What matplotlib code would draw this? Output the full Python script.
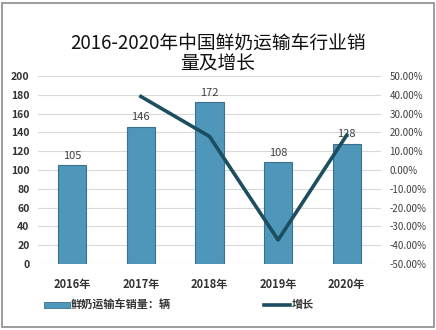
import matplotlib.pyplot as plt
from matplotlib.patches import Rectangle
from matplotlib.ticker import FuncFormatter

plt.rcParams['font.family'] = ['Noto Sans CJK SC', 'DejaVu Sans']

years = ['2016年', '2017年', '2018年', '2019年', '2020年']
sales = [105, 146, 172, 108, 128]
growth = [None, 39.05, 17.81, -37.21, 18.52]

fig = plt.figure(figsize=(4.36, 3.30), dpi=100)
ax = fig.add_axes([0.087, 0.2, 0.787, 0.57])

x = list(range(len(years)))
bars = ax.bar(x, sales, width=0.41, color='#4f96bb', edgecolor='#3b718e', linewidth=0.8, zorder=2)
for xi, v in zip(x, sales):
    ax.text(xi, v + 5, str(v), ha='center', va='bottom', fontsize=8, color='#404040')

ax.set_xlim(-0.5, len(years) - 0.5)
ax.set_ylim(0, 200)
ax.set_yticks(range(0, 201, 20))
ax.set_xticks(x)
ax.set_xticklabels(years, fontsize=8, fontweight='bold', color='#333333')
ax.tick_params(axis='both', length=0, pad=6)
ax.tick_params(axis='x', pad=10)
for lab in ax.get_yticklabels():
    lab.set_fontsize(7.5)
    lab.set_fontweight('bold')
    lab.set_color('#333333')
ax.grid(axis='y', color='#d9d9d9', linewidth=0.8, zorder=0)
for s in ax.spines.values():
    s.set_visible(False)

ax2 = ax.twinx()
gx = [xi for xi, g in zip(x, growth) if g is not None]
gy = [g for g in growth if g is not None]
ax2.plot(gx, gy, color='#1d4e60', linewidth=2.6, zorder=3)
ax2.set_ylim(-50, 50)
ax2.set_yticks(range(-50, 51, 10))
ax2.yaxis.set_major_formatter(FuncFormatter(lambda v, p: f'{v:.2f}%'))
ax2.tick_params(axis='y', length=0, pad=6, labelsize=7, labelcolor='#404040')
for s in ax2.spines.values():
    s.set_visible(False)

fig.text(0.5, 0.868, '2016-2020年中国鲜奶运输车行业销', ha='center', va='center', fontsize=13.5, color='#111111')
fig.text(0.5, 0.805, '量及增长', ha='center', va='center', fontsize=13.5, color='#111111')

# legend row
fig.patches.append(Rectangle((0.1, 0.068), 0.06, 0.018, transform=fig.transFigure,
                             facecolor='#4f96bb', edgecolor='#3b718e', linewidth=0.6))
fig.text(0.163, 0.077, '鲜奶运输车销量：辆', ha='left', va='center', fontsize=8, fontweight='bold', color='#333333')
fig.lines.append(plt.Line2D([0.605, 0.665], [0.077, 0.077], transform=fig.transFigure,
                            color='#1d4e60', linewidth=2.6))
fig.text(0.668, 0.077, '增长', ha='left', va='center', fontsize=8, fontweight='bold', color='#333333')

fig.patches.append(Rectangle((0.005, 0.008), 0.99, 0.984, transform=fig.transFigure,
                             facecolor='none', edgecolor='#8c8c8c', linewidth=1.2))

fig.savefig('out.png', dpi=100)
